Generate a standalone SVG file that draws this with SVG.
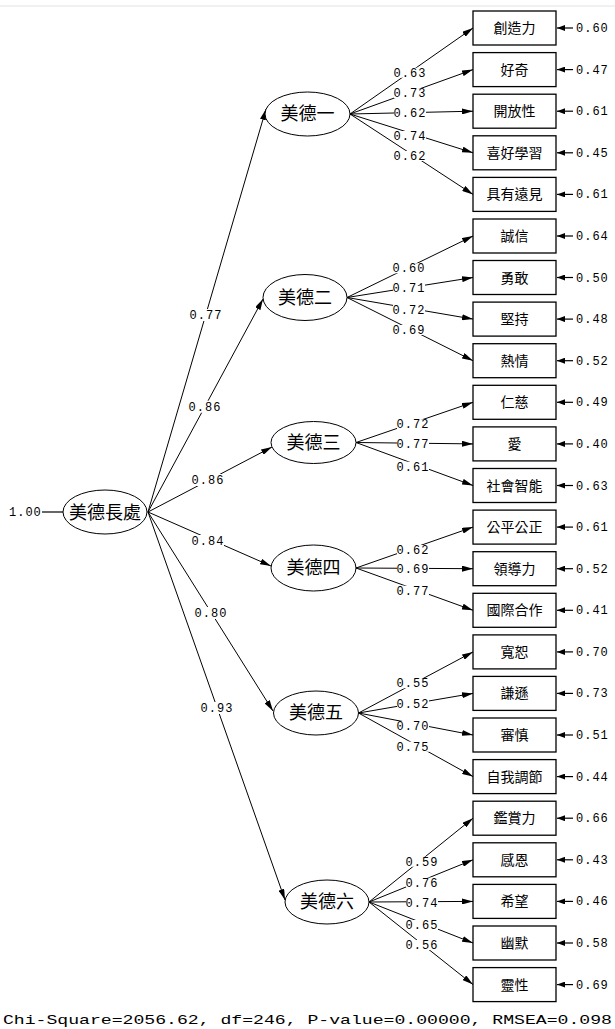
<svg xmlns="http://www.w3.org/2000/svg" width="615" height="1029" viewBox="0 0 615 1029">
<defs>
<marker id="ah" markerUnits="userSpaceOnUse" markerWidth="11" markerHeight="6" refX="11" refY="3" orient="auto"><path d="M0,0 L11,3 L0,6 z" fill="#000"/></marker>
<marker id="rh" markerUnits="userSpaceOnUse" markerWidth="8" markerHeight="6" refX="8" refY="3" orient="auto"><path d="M0,0 L8,3 L0,6 z" fill="#000"/></marker>
<style>
.c{stroke:#000;stroke-width:1;fill:none;marker-end:url(#ah)}
.r{stroke:#000;stroke-width:1.2;fill:none;marker-end:url(#rh)}
.bx{fill:#fff;stroke:#000;stroke-width:1.3}
.el{fill:#fff;stroke:#000;stroke-width:1}
.n{font-family:"Liberation Mono",monospace;font-size:12px;letter-spacing:1px;fill:#000}
.nm{font-family:"Liberation Mono",monospace;font-size:12px;letter-spacing:1px;fill:#000;text-anchor:middle}
.bg{fill:#fff}
.t{font-family:"Liberation Sans","Noto Sans CJK TC",sans-serif;font-size:14px;text-anchor:middle;fill:#000}
.lt{font-family:"Liberation Sans","Noto Sans CJK TC",sans-serif;font-size:18px;text-anchor:middle;fill:#000}
</style>
</defs>
<rect width="615" height="1029" fill="#fff"/>
<line x1="0" y1="6" x2="615" y2="6" stroke="#e2e2e2" stroke-width="1"/>

<g id="connectors">
<line x1="42" y1="512" x2="63" y2="512" stroke="#000" stroke-width="1.2"/>
<line class="c" x1="148" y1="512" x2="266" y2="109"/>
<line class="c" x1="148" y1="512" x2="263" y2="299"/>
<line class="c" x1="148" y1="512" x2="272" y2="447"/>
<line class="c" x1="148" y1="512" x2="271" y2="566"/>
<line class="c" x1="148" y1="512" x2="273" y2="711"/>
<line class="c" x1="148" y1="512" x2="285" y2="900"/>

<line class="c" x1="350" y1="114" x2="473" y2="28"/>
<line class="c" x1="350" y1="114" x2="473" y2="69.6"/>
<line class="c" x1="350" y1="114" x2="473" y2="111.2"/>
<line class="c" x1="350" y1="114" x2="473" y2="152.8"/>
<line class="c" x1="350" y1="114" x2="473" y2="194.4"/>

<line class="c" x1="347" y1="297.5" x2="473" y2="236"/>
<line class="c" x1="347" y1="297.5" x2="473" y2="277.5"/>
<line class="c" x1="347" y1="297.5" x2="473" y2="319.1"/>
<line class="c" x1="347" y1="297.5" x2="473" y2="360.7"/>

<line class="c" x1="356" y1="442.5" x2="473" y2="402.3"/>
<line class="c" x1="356" y1="442.5" x2="473" y2="443.9"/>
<line class="c" x1="356" y1="442.5" x2="473" y2="485.5"/>

<line class="c" x1="356" y1="568" x2="473" y2="527.1"/>
<line class="c" x1="356" y1="568" x2="473" y2="568.7"/>
<line class="c" x1="356" y1="568" x2="473" y2="610.3"/>

<line class="c" x1="358.5" y1="713" x2="473" y2="651.9"/>
<line class="c" x1="358.5" y1="713" x2="473" y2="693.4"/>
<line class="c" x1="358.5" y1="713" x2="473" y2="735"/>
<line class="c" x1="358.5" y1="713" x2="473" y2="776.6"/>

<line class="c" x1="369" y1="902" x2="473" y2="818.2"/>
<line class="c" x1="369" y1="902" x2="473" y2="859.8"/>
<line class="c" x1="369" y1="902" x2="473" y2="901.4"/>
<line class="c" x1="369" y1="902" x2="473" y2="943"/>
<line class="c" x1="369" y1="902" x2="473" y2="984.6"/>

<g id="residual-arrows">
<line class="r" x1="573" y1="28" x2="557" y2="28"/>
<line class="r" x1="573" y1="69.6" x2="557" y2="69.6"/>
<line class="r" x1="573" y1="111.2" x2="557" y2="111.2"/>
<line class="r" x1="573" y1="152.8" x2="557" y2="152.8"/>
<line class="r" x1="573" y1="194.4" x2="557" y2="194.4"/>
<line class="r" x1="573" y1="236" x2="557" y2="236"/>
<line class="r" x1="573" y1="277.5" x2="557" y2="277.5"/>
<line class="r" x1="573" y1="319.1" x2="557" y2="319.1"/>
<line class="r" x1="573" y1="360.7" x2="557" y2="360.7"/>
<line class="r" x1="573" y1="402.3" x2="557" y2="402.3"/>
<line class="r" x1="573" y1="443.9" x2="557" y2="443.9"/>
<line class="r" x1="573" y1="485.5" x2="557" y2="485.5"/>
<line class="r" x1="573" y1="527.1" x2="557" y2="527.1"/>
<line class="r" x1="573" y1="568.7" x2="557" y2="568.7"/>
<line class="r" x1="573" y1="610.3" x2="557" y2="610.3"/>
<line class="r" x1="573" y1="651.9" x2="557" y2="651.9"/>
<line class="r" x1="573" y1="693.4" x2="557" y2="693.4"/>
<line class="r" x1="573" y1="735" x2="557" y2="735"/>
<line class="r" x1="573" y1="776.6" x2="557" y2="776.6"/>
<line class="r" x1="573" y1="818.2" x2="557" y2="818.2"/>
<line class="r" x1="573" y1="859.8" x2="557" y2="859.8"/>
<line class="r" x1="573" y1="901.4" x2="557" y2="901.4"/>
<line class="r" x1="573" y1="943" x2="557" y2="943"/>
<line class="r" x1="573" y1="984.6" x2="557" y2="984.6"/>
</g>

<g id="path-labels">
<rect class="bg" x="190" y="309" width="32" height="12"/><text class="nm" x="206" y="319">0.77</text>
<rect class="bg" x="189" y="400.7" width="32" height="12"/><text class="nm" x="205" y="410.7">0.86</text>
<rect class="bg" x="192" y="474" width="32" height="12"/><text class="nm" x="208" y="484">0.86</text>
<rect class="bg" x="192" y="535" width="32" height="12"/><text class="nm" x="208" y="545">0.84</text>
<rect class="bg" x="195" y="607" width="32" height="12"/><text class="nm" x="211" y="617">0.80</text>
<rect class="bg" x="201" y="702" width="32" height="12"/><text class="nm" x="217" y="712">0.93</text>

<rect class="bg" x="394" y="67.7" width="32" height="10"/><text class="nm" x="410" y="76.7">0.63</text>
<rect class="bg" x="394" y="88.3" width="32" height="10"/><text class="nm" x="410" y="97.3">0.73</text>
<rect class="bg" x="394" y="108.3" width="32" height="10"/><text class="nm" x="410" y="117.3">0.62</text>
<rect class="bg" x="394" y="131" width="32" height="10"/><text class="nm" x="410" y="140">0.74</text>
<rect class="bg" x="394" y="151" width="32" height="10"/><text class="nm" x="410" y="160">0.62</text>

<rect class="bg" x="393" y="263.3" width="32" height="10"/><text class="nm" x="409" y="272.3">0.60</text>
<rect class="bg" x="393" y="283.3" width="32" height="10"/><text class="nm" x="409" y="292.3">0.71</text>
<rect class="bg" x="393" y="305" width="32" height="10"/><text class="nm" x="409" y="314">0.72</text>
<rect class="bg" x="393" y="325" width="32" height="10"/><text class="nm" x="409" y="334">0.69</text>

<rect class="bg" x="397" y="419.3" width="32" height="10"/><text class="nm" x="413" y="428.3">0.72</text>
<rect class="bg" x="397" y="439.3" width="32" height="10"/><text class="nm" x="413" y="448.3">0.77</text>
<rect class="bg" x="397" y="461.7" width="32" height="10"/><text class="nm" x="413" y="470.7">0.61</text>

<rect class="bg" x="397" y="545" width="32" height="10"/><text class="nm" x="413" y="554">0.62</text>
<rect class="bg" x="397" y="564.3" width="32" height="10"/><text class="nm" x="413" y="573.3">0.69</text>
<rect class="bg" x="397" y="585.7" width="32" height="10"/><text class="nm" x="413" y="594.7">0.77</text>

<rect class="bg" x="397" y="678.3" width="32" height="10"/><text class="nm" x="413" y="687.3">0.55</text>
<rect class="bg" x="397" y="699" width="32" height="10"/><text class="nm" x="413" y="708">0.52</text>
<rect class="bg" x="397" y="721" width="32" height="10"/><text class="nm" x="413" y="730">0.70</text>
<rect class="bg" x="397" y="741.7" width="32" height="10"/><text class="nm" x="413" y="750.7">0.75</text>

<rect class="bg" x="406" y="856.7" width="32" height="10"/><text class="nm" x="422" y="865.7">0.59</text>
<rect class="bg" x="406" y="877.7" width="32" height="10"/><text class="nm" x="422" y="886.7">0.76</text>
<rect class="bg" x="406" y="898.3" width="32" height="10"/><text class="nm" x="422" y="907.3">0.74</text>
<rect class="bg" x="406" y="920" width="32" height="10"/><text class="nm" x="422" y="929">0.65</text>
<rect class="bg" x="406" y="940" width="32" height="10"/><text class="nm" x="422" y="949">0.56</text>
</g>
</g>

<g id="source-variance"><text class="n" x="9" y="516">1.00</text></g>

<g id="latent-main"><ellipse class="el" cx="105" cy="512" rx="42" ry="22"/><text class="lt" x="105" y="518.5" font-size="19">美德長處</text></g>
<g id="latent-1"><ellipse class="el" cx="307.5" cy="114" rx="42.5" ry="22"/><text class="lt" x="307.5" y="120">美德一</text></g>
<g id="latent-2"><ellipse class="el" cx="305" cy="297.5" rx="42" ry="23"/><text class="lt" x="305" y="303.5">美德二</text></g>
<g id="latent-3"><ellipse class="el" cx="313.5" cy="442.5" rx="42.5" ry="21"/><text class="lt" x="313.5" y="448.5">美德三</text></g>
<g id="latent-4"><ellipse class="el" cx="313.5" cy="568" rx="42.5" ry="23"/><text class="lt" x="313.5" y="574">美德四</text></g>
<g id="latent-5"><ellipse class="el" cx="316" cy="713" rx="42.5" ry="22"/><text class="lt" x="316" y="719">美德五</text></g>
<g id="latent-6"><ellipse class="el" cx="327" cy="902" rx="42" ry="22"/><text class="lt" x="327" y="908">美德六</text></g>

<g id="obs-01"><rect class="bx" x="473" y="11" width="83" height="34"/><text class="t" x="514.5" y="33">創造力</text><text class="n" x="576" y="32">0.60</text></g>
<g id="obs-02"><rect class="bx" x="473" y="52.6" width="83" height="34"/><text class="t" x="514.5" y="74.6">好奇</text><text class="n" x="576" y="73.6">0.47</text></g>
<g id="obs-03"><rect class="bx" x="473" y="94.2" width="83" height="34"/><text class="t" x="514.5" y="116.2">開放性</text><text class="n" x="576" y="115.2">0.61</text></g>
<g id="obs-04"><rect class="bx" x="473" y="135.8" width="83" height="34"/><text class="t" x="514.5" y="157.8">喜好學習</text><text class="n" x="576" y="156.8">0.45</text></g>
<g id="obs-05"><rect class="bx" x="473" y="177.4" width="83" height="34"/><text class="t" x="514.5" y="199.4">具有遠見</text><text class="n" x="576" y="198.4">0.61</text></g>
<g id="obs-06"><rect class="bx" x="473" y="219" width="83" height="34"/><text class="t" x="514.5" y="241">誠信</text><text class="n" x="576" y="240">0.64</text></g>
<g id="obs-07"><rect class="bx" x="473" y="260.5" width="83" height="34"/><text class="t" x="514.5" y="282.5">勇敢</text><text class="n" x="576" y="281.5">0.50</text></g>
<g id="obs-08"><rect class="bx" x="473" y="302.1" width="83" height="34"/><text class="t" x="514.5" y="324.1">堅持</text><text class="n" x="576" y="323.1">0.48</text></g>
<g id="obs-09"><rect class="bx" x="473" y="343.7" width="83" height="34"/><text class="t" x="514.5" y="365.7">熱情</text><text class="n" x="576" y="364.7">0.52</text></g>
<g id="obs-10"><rect class="bx" x="473" y="385.3" width="83" height="34"/><text class="t" x="514.5" y="407.3">仁慈</text><text class="n" x="576" y="406.3">0.49</text></g>
<g id="obs-11"><rect class="bx" x="473" y="426.9" width="83" height="34"/><text class="t" x="514.5" y="448.9">愛</text><text class="n" x="576" y="447.9">0.40</text></g>
<g id="obs-12"><rect class="bx" x="473" y="468.5" width="83" height="34"/><text class="t" x="514.5" y="490.5">社會智能</text><text class="n" x="576" y="489.5">0.63</text></g>
<g id="obs-13"><rect class="bx" x="473" y="510.1" width="83" height="34"/><text class="t" x="514.5" y="532.1">公平公正</text><text class="n" x="576" y="531.1">0.61</text></g>
<g id="obs-14"><rect class="bx" x="473" y="551.7" width="83" height="34"/><text class="t" x="514.5" y="573.7">領導力</text><text class="n" x="576" y="572.7">0.52</text></g>
<g id="obs-15"><rect class="bx" x="473" y="593.3" width="83" height="34"/><text class="t" x="514.5" y="615.3">國際合作</text><text class="n" x="576" y="614.3">0.41</text></g>
<g id="obs-16"><rect class="bx" x="473" y="634.9" width="83" height="34"/><text class="t" x="514.5" y="656.9">寬恕</text><text class="n" x="576" y="655.9">0.70</text></g>
<g id="obs-17"><rect class="bx" x="473" y="676.4" width="83" height="34"/><text class="t" x="514.5" y="698.4">謙遜</text><text class="n" x="576" y="697.4">0.73</text></g>
<g id="obs-18"><rect class="bx" x="473" y="718" width="83" height="34"/><text class="t" x="514.5" y="740">審慎</text><text class="n" x="576" y="739">0.51</text></g>
<g id="obs-19"><rect class="bx" x="473" y="759.6" width="83" height="34"/><text class="t" x="514.5" y="781.6">自我調節</text><text class="n" x="576" y="780.6">0.44</text></g>
<g id="obs-20"><rect class="bx" x="473" y="801.2" width="83" height="34"/><text class="t" x="514.5" y="823.2">鑑賞力</text><text class="n" x="576" y="822.2">0.66</text></g>
<g id="obs-21"><rect class="bx" x="473" y="842.8" width="83" height="34"/><text class="t" x="514.5" y="864.8">感恩</text><text class="n" x="576" y="863.8">0.43</text></g>
<g id="obs-22"><rect class="bx" x="473" y="884.4" width="83" height="34"/><text class="t" x="514.5" y="906.4">希望</text><text class="n" x="576" y="905.4">0.46</text></g>
<g id="obs-23"><rect class="bx" x="473" y="926" width="83" height="34"/><text class="t" x="514.5" y="948">幽默</text><text class="n" x="576" y="947">0.58</text></g>
<g id="obs-24"><rect class="bx" x="473" y="967.6" width="83" height="34"/><text class="t" x="514.5" y="989.6">靈性</text><text class="n" x="576" y="988.6">0.69</text></g>

<g id="fit-stats"><text x="3" y="1024" font-family="'Liberation Mono',monospace" font-size="13.5" textLength="609" lengthAdjust="spacingAndGlyphs" fill="#000">Chi-Square=2056.62, df=246, P-value=0.00000, RMSEA=0.098</text></g>
</svg>
